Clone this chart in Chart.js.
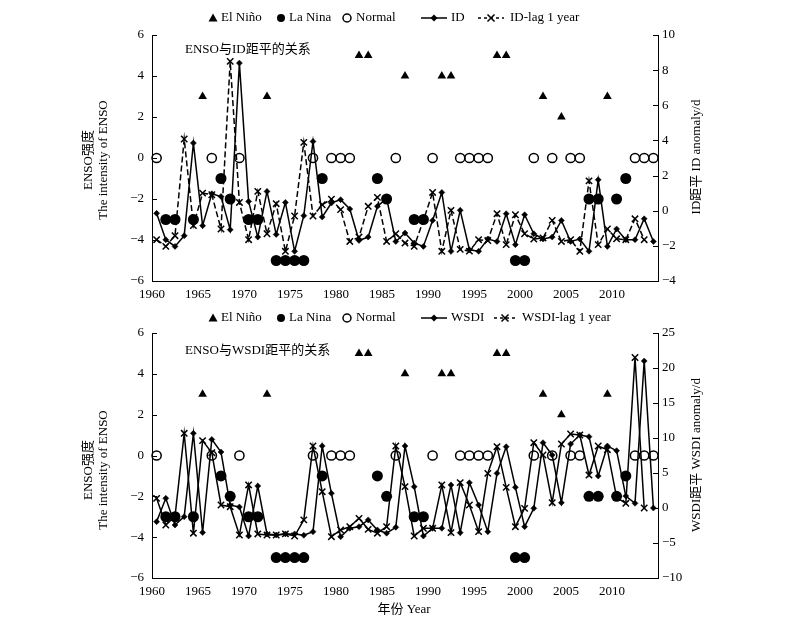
<!DOCTYPE html>
<html>
<head>
<meta charset="utf-8">
<script src="https://cdn.jsdelivr.net/npm/chart.js@4.4.1/dist/chart.umd.min.js"></script>
<style>
  html, body { margin: 0; padding: 0; background: #fff; }
  #wrap { position: relative; width: 800px; height: 630px; overflow: hidden; }
  canvas { position: absolute; left: 0; }
  #c1 { top: 0; }
  #c2 { top: 300px; }
</style>
</head>
<body>
<div id="wrap">
  <canvas id="c1" width="800" height="315"></canvas>
  <canvas id="c2" width="800" height="330"></canvas>
</div>
<script>
// years 1960-2014
const years = [1960,1961,1962,1963,1964,1965,1966,1967,1968,1969,
               1970,1971,1972,1973,1974,1975,1976,1977,1978,1979,
               1980,1981,1982,1983,1984,1985,1986,1987,1988,1989,
               1990,1991,1992,1993,1994,1995,1996,1997,1998,1999,
               2000,2001,2002,2003,2004,2005,2006,2007,2008,2009,
               2010,2011,2012,2013,2014];
const xTickYears = [1960,1965,1970,1975,1980,1985,1990,1995,2000,2005,2010];

// E = El Niño, L = La Nina, N = Normal, '' = no marker
const ensoType = ['N','L','L','','L','E','N','L','L','N',
                  'L','L','E','L','L','L','L','N','L','N',
                  'N','N','E','E','L','L','N','E','L','L',
                  'N','E','E','N','N','N','N','E','E','L',
                  'L','N','E','N','E','N','N','L','L','E',
                  'L','L','N','N','N'];
const ensoIntensity = [0,-3,-3,null,-3,3,0,-1,-2,0,
                       -3,-3,3,-5,-5,-5,-5,0,-1,0,
                       0,0,5,5,-1,-2,0,4,-3,-3,
                       0,4,4,0,0,0,0,5,5,-5,
                       -5,0,3,0,2,0,0,-2,-2,3,
                       -2,-1,0,0,0];

// ID anomaly (d), 1960-2014
const idAnomaly = [-0.15,-1.65,-2.03,-1.42,3.85,-0.85,0.97,0.81,-1.08,8.4,
                   0.53,-1.5,1.1,-1.35,0.47,-2.31,-0.28,3.94,-0.36,0.44,
                   0.63,0.1,-1.69,-1.5,0.25,0.7,-1.75,-1.27,-1.84,-2.03,
                   -0.55,1.04,-2.31,0.02,-2.22,-2.31,-1.61,-1.75,-0.17,-1.93,
                   -0.23,-1.31,-1.61,-1.5,-0.55,-1.75,-1.61,-2.31,1.76,-2.03,
                   -1.04,-1.65,-1.65,-0.46,-1.75];
// ID-lag 1 year, 1960-2013
const idLag = [-1.65,-2.03,-1.42,4.08,-0.85,1.0,0.91,-1.04,8.5,0.47,
               -1.65,1.1,-1.31,0.4,-2.31,-0.3,3.89,-0.3,0.34,0.66,
               0.06,-1.75,-1.5,0.25,0.76,-1.75,-1.31,-1.84,-2.03,-0.55,
               1.04,-2.31,0.02,-2.2,-2.3,-1.65,-1.7,-0.17,-1.93,-0.23,
               -1.31,-1.61,-1.55,-0.55,-1.75,-1.65,-2.31,1.7,-1.93,-1.04,
               -1.6,-1.65,-0.46,-1.65];

// WSDI anomaly (d), 1960-2014
const wsdiAnomaly = [-1.95,1.38,-2.43,-1.24,10.67,-3.5,9.8,8.0,0.4,0.15,
                     -4.0,3.14,-3.71,-3.86,-3.7,-3.7,-3.9,-3.38,8.86,2.1,
                     -4.1,-2.9,-2.67,-1.7,-3.14,-3.6,-2.76,8.86,3.05,-4.0,
                     -2.9,-2.9,3.29,-3.52,3.62,0.43,-3.38,4.95,8.76,2.95,
                     -2.67,-0.05,9.33,7.57,0.76,9.14,10.43,10.19,4.57,8.86,
                     8.19,1.71,0.67,21.0,0.0];
// WSDI-lag 1 year, 1960-2013
const wsdiLag = [1.38,-2.43,-1.2,10.67,-3.6,9.62,7.9,0.43,0.19,-3.86,
                 3.29,-3.71,-3.86,-3.86,-3.7,-4.0,-1.7,8.86,2.33,-4.1,
                 -3.14,-2.67,-1.48,-3.05,-3.6,-2.67,8.86,3.05,-4.0,-2.9,
                 -2.9,3.29,-3.52,3.62,0.43,-3.38,4.95,8.76,2.95,-2.67,
                 -0.05,9.33,7.57,0.76,9.14,10.57,10.43,4.71,8.86,8.33,
                 1.52,0.67,21.5,0.0];

const FONT = '"Liberation Serif", "Noto Sans CJK SC", serif';
Chart.defaults.font.family = FONT;
Chart.defaults.color = '#000';

function minus(v) { return String(v).replace('-', '\u2212'); }

function ensoPoints(t) {
  var out = [];
  for (var i = 0; i < years.length; i++) {
    if (ensoType[i] === t) out.push({x: years[i], y: ensoIntensity[i]});
  }
  return out;
}
function seriesPoints(vals) {
  return vals.map(function (v, i) { return {x: years[i], y: v}; });
}

// small legend marker helpers
function mTri(ctx, x, y) {
  ctx.beginPath(); ctx.moveTo(x, y - 4.5); ctx.lineTo(x + 4.5, y + 3.5); ctx.lineTo(x - 4.5, y + 3.5);
  ctx.closePath(); ctx.fill();
}
function mDot(ctx, x, y, r, filled) {
  ctx.beginPath(); ctx.arc(x, y, r, 0, Math.PI * 2);
  if (filled) ctx.fill(); else { ctx.lineWidth = 1.5; ctx.stroke(); }
}
function mDiamond(ctx, x, y) {
  ctx.beginPath(); ctx.moveTo(x, y - 3.5); ctx.lineTo(x + 3.5, y); ctx.lineTo(x, y + 3.5); ctx.lineTo(x - 3.5, y);
  ctx.closePath(); ctx.fill();
}
function mCross(ctx, x, y) {
  ctx.lineWidth = 1.5; ctx.beginPath();
  ctx.moveTo(x - 3.5, y - 3.5); ctx.lineTo(x + 3.5, y + 3.5);
  ctx.moveTo(x + 3.5, y - 3.5); ctx.lineTo(x - 3.5, y + 3.5); ctx.stroke();
}
function vText(ctx, text, x, y) {
  ctx.save(); ctx.translate(x, y); ctx.rotate(-Math.PI / 2);
  ctx.textAlign = 'center'; ctx.textBaseline = 'middle';
  ctx.fillText(text, 0, 0); ctx.restore();
}

const decor = {
  id: 'decor',
  afterDraw: function (chart, args, o) {
    var ctx = chart.ctx, a = chart.chartArea;
    ctx.save();
    ctx.strokeStyle = '#000'; ctx.fillStyle = '#000'; ctx.lineWidth = 1;
    // inward ticks on both y axes
    ['y', 'y2'].forEach(function (id) {
      var s = chart.scales[id];
      var x0 = id === 'y' ? a.left : a.right;
      var d = id === 'y' ? 5 : -5;
      s.ticks.forEach(function (t) {
        var py = Math.round(s.getPixelForValue(t.value)) + 0.5;
        ctx.beginPath(); ctx.moveTo(x0, py); ctx.lineTo(x0 + d, py); ctx.stroke();
      });
    });
    // legend
    var ly = o.legendY;
    ctx.font = '13px ' + FONT; ctx.textBaseline = 'middle'; ctx.textAlign = 'left';
    mTri(ctx, 213, ly); ctx.fillText('El Niño', 221, ly);
    mDot(ctx, 281, ly, 4, true); ctx.fillText('La Nina', 289, ly);
    mDot(ctx, 347, ly, 4, false); ctx.fillText('Normal', 356, ly);
    ctx.lineWidth = 1.5;
    ctx.beginPath(); ctx.moveTo(o.lineX[0], ly); ctx.lineTo(o.lineX[1], ly); ctx.stroke();
    mDiamond(ctx, (o.lineX[0] + o.lineX[1]) / 2, ly);
    ctx.fillText(o.seriesName, o.lineX[1] + 4, ly);
    ctx.lineWidth = 1.5; ctx.setLineDash([3, 3]);
    ctx.beginPath(); ctx.moveTo(o.lagX[0], ly); ctx.lineTo(o.lagX[1], ly); ctx.stroke();
    ctx.setLineDash([]);
    mCross(ctx, (o.lagX[0] + o.lagX[1]) / 2, ly);
    ctx.fillText(o.lagName, o.lagX[1] + 6, ly);
    // inset title
    ctx.fillText(o.inset, 185, o.insetY);
    // axis titles
    vText(ctx, 'ENSO强度', 89, o.leftTitleY);
    vText(ctx, 'The intensity of ENSO', 104, o.leftTitleY);
    vText(ctx, o.rightTitle, 697, o.rightTitleY);
    if (o.xTitle) {
      ctx.textAlign = 'center';
      ctx.fillText(o.xTitle, 404, o.xTitleY);
    }
    ctx.restore();
  }
};

function buildPanel(canvasId, p) {
  var ctx = document.getElementById(canvasId).getContext('2d');
  return new Chart(ctx, {
    type: 'scatter',
    data: {
      datasets: [
        {label: 'El Niño', data: ensoPoints('E'), yAxisID: 'y', pointStyle: 'triangle',
         pointRadius: 5, backgroundColor: '#000', borderColor: '#000', borderWidth: 0, clip: false},
        {label: 'La Nina', data: ensoPoints('L'), yAxisID: 'y', pointStyle: 'circle',
         pointRadius: 5.5, backgroundColor: '#000', borderColor: '#000', borderWidth: 0, clip: false},
        {label: 'Normal', data: ensoPoints('N'), yAxisID: 'y', pointStyle: 'circle',
         pointRadius: 4.6, backgroundColor: 'rgba(0,0,0,0)', borderColor: '#000', borderWidth: 1.5, clip: false},
        {label: p.seriesName, data: seriesPoints(p.series), yAxisID: 'y2', showLine: true,
         borderColor: '#000', borderWidth: 1.5, pointStyle: 'rectRot', pointRadius: 3,
         pointBackgroundColor: '#000', pointBorderColor: '#000', pointBorderWidth: 0.5, clip: false},
        {label: p.lagName, data: seriesPoints(p.lag), yAxisID: 'y2', showLine: true,
         borderColor: '#000', borderWidth: 1.5, borderDash: p.lagDash, pointStyle: 'crossRot', pointRadius: 4.5,
         pointBorderColor: '#000', pointBorderWidth: 1.5, clip: false}
      ]
    },
    options: {
      responsive: false,
      animation: false,
      devicePixelRatio: 1,
      layout: {padding: {left: 100, right: 102, top: p.padTop, bottom: p.padBottom}},
      scales: {
        x: {
          type: 'linear', min: 1959.5, max: 2014.5,
          afterBuildTicks: function (s) {
            s.ticks = xTickYears.map(function (v) { return {value: v - 0.5}; });
          },
          afterFit: function (s) { s.height = 24; },
          ticks: {padding: 6, maxRotation: 0, font: {size: 13},
                  callback: function (v) { return String(Math.round(v + 0.5)); }},
          grid: {display: true, drawOnChartArea: false, drawTicks: false},
          border: {display: true, color: '#000', width: 1}
        },
        y: {
          position: 'left', min: -6, max: 6,
          afterFit: function (s) { s.width = 52; },
          ticks: {stepSize: 2, padding: 8, font: {size: 13}, callback: minus},
          grid: {display: true, drawOnChartArea: false, drawTicks: false},
          border: {display: true, color: '#000', width: 1}
        },
        y2: {
          position: 'right', min: p.rMin, max: p.rMax,
          afterFit: function (s) { s.width = 40; },
          ticks: {stepSize: p.rStep, padding: 4, font: {size: 13}, callback: minus},
          grid: {display: true, drawOnChartArea: false, drawTicks: false},
          border: {display: true, color: '#000', width: 1}
        }
      },
      plugins: {
        legend: {display: false},
        tooltip: {enabled: false},
        decor: p.decor
      }
    },
    plugins: [decor]
  });
}

buildPanel('c1', {
  series: idAnomaly, lag: idLag, seriesName: 'ID', lagName: 'ID-lag 1 year',
  rMin: -4, rMax: 10, rStep: 2, padTop: 35, padBottom: 10, lagDash: [6, 3],
  decor: {legendY: 18, lineX: [421, 447], lagX: [478, 504], seriesName: 'ID', lagName: 'ID-lag 1 year',
          inset: 'ENSO与ID距平的关系', insetY: 50, leftTitleY: 160,
          rightTitle: 'ID距平 ID anomaly/d', rightTitleY: 157}
});

buildPanel('c2', {
  series: wsdiAnomaly, lag: wsdiLag, seriesName: 'WSDI', lagName: 'WSDI-lag 1 year',
  rMin: -10, rMax: 25, rStep: 5, padTop: 33, padBottom: 28, lagDash: [],
  decor: {legendY: 18, lineX: [421, 447], lagX: [494, 516], seriesName: 'WSDI', lagName: 'WSDI-lag 1 year',
          inset: 'ENSO与WSDI距平的关系', insetY: 51, leftTitleY: 170,
          rightTitle: 'WSDI距平 WSDI anomaly/d', rightTitleY: 155,
          xTitle: '年份 Year', xTitleY: 310}
});
</script>
</body>
</html>
